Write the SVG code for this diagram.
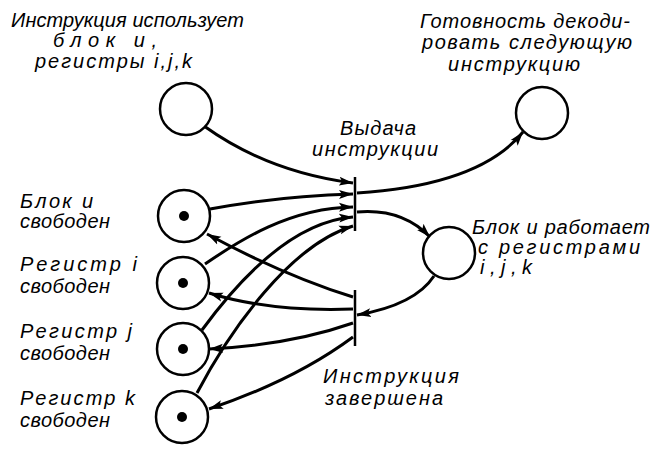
<svg xmlns="http://www.w3.org/2000/svg" width="671" height="457" viewBox="0 0 671 457">
<style>
text{font-family:"Liberation Sans","DejaVu Sans",sans-serif;font-style:italic;font-size:20px;fill:#000}
.place{fill:#fff;stroke:#000;stroke-width:2.5}
.tok{fill:#000}
.bar{stroke:#000;stroke-width:2.5}
.arc{fill:none;stroke:#000;stroke-width:3}
</style>
<defs>
<marker id="ah" markerUnits="userSpaceOnUse" markerWidth="16" markerHeight="10" refX="14" refY="5" orient="auto">
<path d="M0,0.5 L14,5 L0,9.5 L3,5 Z" fill="#000"/>
</marker>
</defs>
<rect width="671" height="457" fill="#fff"/>
<g id="connectors">
<path class="arc" marker-end="url(#ah)" d="M204,126 Q268,172 353,183"/>
<path class="arc" marker-end="url(#ah)" d="M210,209 Q280,196 353,194"/>
<path class="arc" marker-end="url(#ah)" d="M205,264 C240,240 290,208 353,207"/>
<path class="arc" marker-end="url(#ah)" d="M202,330 C235,285 290,222 353,217"/>
<path class="arc" marker-end="url(#ah)" d="M197,393 C230,330 290,245 353,226"/>
<path class="arc" marker-end="url(#ah)" d="M357,193 Q480,185 523,132"/>
<path class="arc" marker-end="url(#ah)" d="M357,212 Q402,208 430,237"/>
<path class="arc" marker-end="url(#ah)" d="M434,276 Q415,305 357,315"/>
<path class="arc" marker-end="url(#ah)" d="M353,297 Q285,276 207,234"/>
<path class="arc" marker-end="url(#ah)" d="M353,309 Q270,312 209,293"/>
<path class="arc" marker-end="url(#ah)" d="M353,323 Q290,345 209,349"/>
<path class="arc" marker-end="url(#ah)" d="M353,337 Q295,380 209,409"/>
</g>
<g id="p_instr">
<circle class="place" cx="186" cy="109" r="26"/>
<text x="11" y="27" textLength="233" lengthAdjust="spacing">Инструкция использует</text>
<text x="53" y="47" textLength="104" lengthAdjust="spacing">блок и,</text>
<text x="35" y="68" textLength="157" lengthAdjust="spacing">регистры i,j,k</text>
</g>
<g id="p_ready">
<circle class="place" cx="542" cy="113" r="26"/>
<text x="420" y="28" textLength="210" lengthAdjust="spacing">Готовность декоди-</text>
<text x="422" y="49" textLength="210" lengthAdjust="spacing">ровать следующую</text>
<text x="448" y="71" textLength="132" lengthAdjust="spacing">инструкцию</text>
</g>
<g id="t_issue">
<line class="bar" x1="355" y1="177" x2="355" y2="231"/>
<text x="340" y="135" textLength="76" lengthAdjust="spacing">Выдача</text>
<text x="312" y="156" textLength="126" lengthAdjust="spacing">инструкции</text>
</g>
<g id="t_done">
<line class="bar" x1="355" y1="290" x2="355" y2="346"/>
<text x="323" y="383" textLength="136" lengthAdjust="spacing">Инструкция</text>
<text x="325" y="405" textLength="118" lengthAdjust="spacing">завершена</text>
</g>
<g id="p_busy">
<circle class="place" cx="449" cy="253" r="26"/>
<text x="472" y="234" textLength="178" lengthAdjust="spacing">Блок и работает</text>
<text x="478" y="254" textLength="162" lengthAdjust="spacing">с регистрами</text>
<text x="480" y="274" textLength="52" lengthAdjust="spacing">i,j,k</text>
</g>
<g id="p_unit">
<circle class="place" cx="184" cy="216" r="26"/>
<circle class="tok" cx="184" cy="216" r="5"/>
<text x="20" y="208" textLength="73" lengthAdjust="spacing">Блок и</text>
<text x="20" y="228" textLength="90" lengthAdjust="spacing">свободен</text>
</g>
<g id="p_ri">
<circle class="place" cx="183" cy="283" r="26"/>
<circle class="tok" cx="183" cy="283" r="5"/>
<text x="20" y="271" textLength="117" lengthAdjust="spacing">Регистр i</text>
<text x="20" y="293" textLength="90" lengthAdjust="spacing">свободен</text>
</g>
<g id="p_rj">
<circle class="place" cx="183" cy="349" r="26"/>
<circle class="tok" cx="183" cy="349" r="5"/>
<text x="20" y="338" textLength="112" lengthAdjust="spacing">Регистр j</text>
<text x="20" y="360" textLength="90" lengthAdjust="spacing">свободен</text>
</g>
<g id="p_rk">
<circle class="place" cx="182" cy="417" r="26"/>
<circle class="tok" cx="182" cy="417" r="5"/>
<text x="20" y="405" textLength="115" lengthAdjust="spacing">Регистр k</text>
<text x="20" y="427" textLength="90" lengthAdjust="spacing">свободен</text>
</g>
</svg>
